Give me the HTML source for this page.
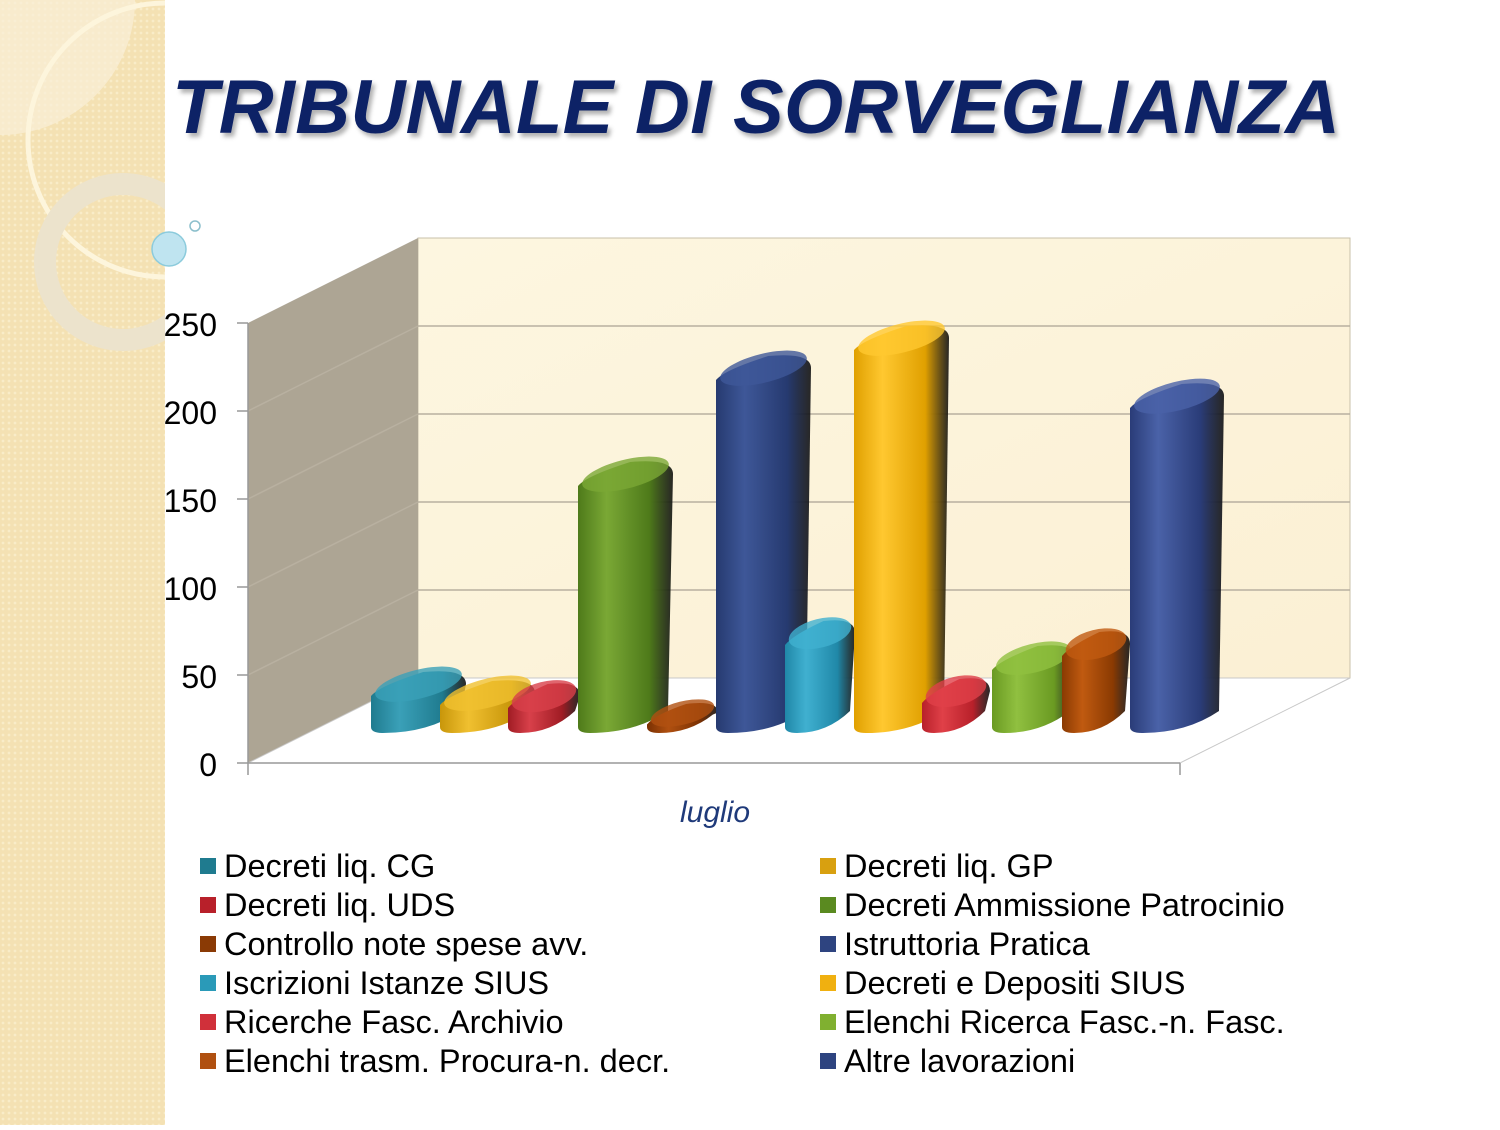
<!DOCTYPE html>
<html><head><meta charset="utf-8"><style>
body{margin:0;width:1500px;height:1125px;background:#fff;overflow:hidden;font-family:"Liberation Sans",sans-serif}
</style></head><body>
<svg width="1500" height="1125" xmlns="http://www.w3.org/2000/svg">
<defs>
<pattern id="pt" width="6" height="6" patternUnits="userSpaceOnUse"><rect width="6" height="6" fill="#f4e1b3"/><circle cx="3" cy="3" r="1.4" fill="#f9ecc8"/></pattern>
<linearGradient id="bw" x1="0" y1="0" x2="1" y2="1"><stop offset="0" stop-color="#fdf6e0"/><stop offset="1" stop-color="#fbf0d4"/></linearGradient>
<filter id="sh"><feDropShadow dx="3" dy="4" stdDeviation="2" flood-color="#000" flood-opacity="0.3"/></filter>
<clipPath id="sb"><rect x="0" y="0" width="165" height="1125"/></clipPath>
</defs>
<rect x="0" y="0" width="165" height="1125" fill="url(#pt)"/>
<g clip-path="url(#sb)">
<path d="M0,0 H135 V0 A135,135 0 0 1 0,135 Z" fill="#faf0d8" opacity="0.7"/>
<circle cx="165" cy="140" r="137" fill="none" stroke="#fdf5dc" stroke-width="5"/>
<circle cx="123" cy="262" r="78" fill="none" stroke="#ece3cc" stroke-width="22"/>
</g>
<circle cx="169" cy="249" r="17" fill="#bfe4f0" stroke="#8ccbdc" stroke-width="1.5"/>
<circle cx="195" cy="226" r="5" fill="none" stroke="#8cbfcc" stroke-width="1.5"/>
<text x="172" y="133" font-size="76" font-weight="bold" font-style="italic" fill="#0f2466" filter="url(#sh)" textLength="1168" lengthAdjust="spacing">TRIBUNALE DI SORVEGLIANZA</text>

<polygon points="418,238 1350,238 1350,678 418,678" fill="url(#bw)" stroke="#c8c0aa"/>
<polygon points="248,323 418,238 418,678 248,763" fill="#ada594"/>
<polygon points="248,763 418,678 1350,678 1180,763" fill="#fff" stroke="#c8c8c8"/>
<g stroke="#b8b0a0" stroke-width="1.5">
<line x1="418" y1="590" x2="1350" y2="590"/><line x1="418" y1="502" x2="1350" y2="502"/><line x1="418" y1="414" x2="1350" y2="414"/><line x1="418" y1="326" x2="1350" y2="326"/>
<line x1="248" y1="675" x2="418" y2="590"/><line x1="248" y1="587" x2="418" y2="502"/><line x1="248" y1="499" x2="418" y2="414"/><line x1="248" y1="411" x2="418" y2="326"/>
</g>
<g stroke="#999" stroke-width="1.5">
<line x1="248" y1="323" x2="248" y2="775"/><line x1="248" y1="763" x2="1180" y2="763"/><line x1="1180" y1="763" x2="1180" y2="775"/>
<line x1="237" y1="323" x2="248" y2="323"/><line x1="237" y1="411" x2="248" y2="411"/><line x1="237" y1="499" x2="248" y2="499"/><line x1="237" y1="587" x2="248" y2="587"/><line x1="237" y1="675" x2="248" y2="675"/><line x1="237" y1="763" x2="248" y2="763"/>
</g>
<g font-size="32" text-anchor="end" fill="#000">
<text x="217" y="336">250</text><text x="217" y="424">200</text><text x="217" y="512">150</text><text x="217" y="600">100</text><text x="217" y="688">50</text><text x="217" y="776">0</text>
</g>
<text x="715" y="822" font-size="30" font-style="italic" fill="#1f3a7a" text-anchor="middle">luglio</text>

<g id="bars"></g>

<g font-size="32.5" fill="#000">
<rect x="200" y="858" width="16" height="16" fill="#1f7b8f"/><text x="224" y="877">Decreti liq. CG</text>
<rect x="200" y="897" width="16" height="16" fill="#b8202a"/><text x="224" y="916">Decreti liq. UDS</text>
<rect x="200" y="936" width="16" height="16" fill="#8a3a05"/><text x="224" y="955">Controllo note spese avv.</text>
<rect x="200" y="975" width="16" height="16" fill="#2a9ab8"/><text x="224" y="994">Iscrizioni Istanze SIUS</text>
<rect x="200" y="1014" width="16" height="16" fill="#d0303a"/><text x="224" y="1033">Ricerche Fasc. Archivio</text>
<rect x="200" y="1053" width="16" height="16" fill="#b05010"/><text x="224" y="1072">Elenchi trasm. Procura-n. decr.</text>
<rect x="820" y="858" width="16" height="16" fill="#d8a010"/><text x="844" y="877">Decreti liq. GP</text>
<rect x="820" y="897" width="16" height="16" fill="#5a8a20"/><text x="844" y="916">Decreti Ammissione Patrocinio</text>
<rect x="820" y="936" width="16" height="16" fill="#2e4480"/><text x="844" y="955">Istruttoria Pratica</text>
<rect x="820" y="975" width="16" height="16" fill="#f0b010"/><text x="844" y="994">Decreti e Depositi SIUS</text>
<rect x="820" y="1014" width="16" height="16" fill="#80b030"/><text x="844" y="1033">Elenchi Ricerca Fasc.-n. Fasc.</text>
<rect x="820" y="1053" width="16" height="16" fill="#2e4480"/><text x="844" y="1072">Altre lavorazioni</text>
</g>
</svg>
<script>
const bars=[[371,466,668,'#1f7b8f','#3aa0b8'],[440,535,677,'#c8960a','#f0c030'],[508,580,680,'#a01c24','#d8404a'],[578,673,458,'#4e7a1a','#7aa835'],[647,718,700,'#7a3002','#b05010'],[716,811,352,'#263a70','#3e5798'],[785,855,617,'#2088a8','#40b0d0'],[854,949,322,'#e0a000','#ffc830'],[922,990,675,'#b8202a','#e04048'],[992,1075,642,'#6a9a22','#90c040'],[1062,1130,628,'#8a3a02','#c05a10'],[1130,1224,380,'#2a3c78','#4a62a8']];
const ns='http://www.w3.org/2000/svg';const g=document.getElementById('bars');
let defs=document.querySelector('defs');
bars.forEach((b,i)=>{const[x1,x2,top,c,l]=b;const w=x2-x1,ry=Math.min(18,(733-top)/2-2);
const gr=document.createElementNS(ns,'linearGradient');gr.id='g'+i;gr.setAttribute('x1','0');gr.setAttribute('x2','1');
gr.innerHTML=`<stop offset="0" stop-color="${c}"/><stop offset="0.3" stop-color="${l}"/><stop offset="0.75" stop-color="${c}"/><stop offset="1" stop-color="#111" stop-opacity="0.9"/>`;defs.appendChild(gr);
const bot=733;
const p=document.createElementNS(ns,'path');
p.setAttribute('d',`M${x1},${top+ry+10} L${x1},${bot-6} Q${x1},${bot} ${x1+12},${bot} Q${x1+w*0.6},${bot} ${x2-5},${bot-ry-4} L${x2},${top+ry-2} Q${x2},${top} ${x2-w*0.45},${top+4} Q${x1+8},${top+ry} ${x1},${top+ry+10}Z`);
p.setAttribute('fill','url(#g'+i+')');g.appendChild(p);
const e=document.createElementNS(ns,'ellipse');e.setAttribute('cx',(x1+x2)/2);e.setAttribute('cy',top+ry*0.9);e.setAttribute('rx',w/2-3);e.setAttribute('ry',ry*0.8);
e.setAttribute('transform',`rotate(-14 ${(x1+x2)/2} ${top+ry*0.9})`);e.setAttribute('fill',l);e.setAttribute('opacity','0.8');g.appendChild(e);});
</script>
</body></html>
